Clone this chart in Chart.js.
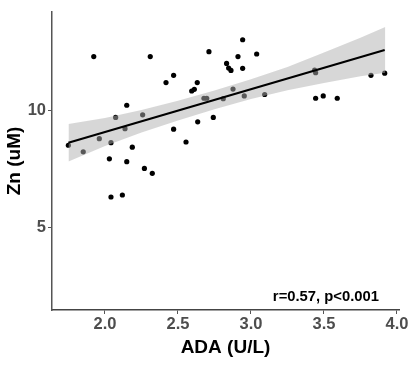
<!DOCTYPE html>
<html>
<head>
<meta charset="utf-8">
<script src="https://cdn.jsdelivr.net/npm/chart.js@4"></script>
<style>
  html, body { margin: 0; padding: 0; background: #fff; }
  #wrap { width: 417px; height: 365px; }
</style>
</head>
<body>
<div id="wrap"><canvas id="chart" width="417" height="365"></canvas></div>
<script>
// ADA vs Zn scatter
const adaValues = [
  1.923, 2.31, 2.712, 2.418, 2.47, 2.632, 2.594, 2.612, 2.678, 2.697,
  2.149, 2.073, 2.258, 2.137, 1.961, 2.041, 1.749, 1.851, 2.187, 2.47,
  2.635, 2.555, 2.03, 2.149, 2.27, 2.324, 2.041, 2.119, 2.943, 2.911,
  3.039, 2.833, 2.847, 2.863, 2.943, 2.742, 2.81, 2.877, 2.954, 3.094,
  3.436, 3.443, 3.443, 3.495, 3.591, 3.822, 3.916
];
const znValues = [
  12.29, 12.29, 12.5, 11.18, 11.49, 11.18, 10.82, 10.89, 10.51, 10.51,
  10.21, 9.69, 9.8, 9.21, 8.78, 8.61, 8.5, 8.22, 8.42, 9.19,
  9.5, 8.64, 7.92, 7.8, 7.51, 7.3, 6.29, 6.375, 13.01, 12.29,
  12.4, 12.0, 11.8, 11.7, 11.79, 9.69, 10.49, 10.9, 10.61, 10.67,
  11.71, 11.6, 10.51, 10.61, 10.51, 11.49, 11.58
];

// fitted line ends and confidence band
const fitX = [1.749, 3.916];
const fitY = [8.61, 12.57];
const bandX = [1.75, 2.0, 2.25, 2.5, 2.75, 3.0, 3.25, 3.5, 3.75, 3.92];
const bandUpper = [9.41, 9.67, 10.01, 10.40, 10.84, 11.32, 11.85, 12.46, 13.09, 13.56];
const bandLower = [7.81, 8.47, 9.05, 9.56, 10.04, 10.48, 10.85, 11.16, 11.45, 11.60];

const xTicks = [2.0, 2.5, 3.0, 3.5, 4.0];
const yTicks = [5, 10];
const statText = "r=0.57, p<0.001";
const statPos = { x: 3.877, y: 2.0 };

const pts = (xs, ys) => xs.map((x, i) => ({ x: x, y: ys[i] }));

const tickFont = { family: "'Liberation Sans', Arial, sans-serif", size: 16.5, weight: "bold" };
const titleFont = { family: "'Liberation Sans', Arial, sans-serif", size: 19, weight: "bold" };

// r / p label inside the plot
const statLabel = {
  id: "statLabel",
  afterDraw(chart) {
    const ctx = chart.ctx;
    const px = chart.scales.x.getPixelForValue(statPos.x);
    const py = chart.scales.y.getPixelForValue(statPos.y);
    ctx.save();
    ctx.font = "bold 14.8px 'Liberation Sans', Arial, sans-serif";
    ctx.fillStyle = "#000";
    ctx.textAlign = "right";
    ctx.textBaseline = "middle";
    ctx.fillText(statText, px, py);
    ctx.restore();
  },
};

new Chart(document.getElementById("chart"), {
  type: "scatter",
  data: {
    datasets: [
      {
        label: "points",
        data: pts(adaValues, znValues),
        backgroundColor: "#000",
        borderWidth: 0,
        pointRadius: 2.6,
        order: 4,
      },
      {
        type: "line",
        label: "upper",
        data: pts(bandX, bandUpper),
        borderWidth: 0,
        pointRadius: 0,
        backgroundColor: "rgba(175,175,175,0.5)",
        fill: "+1",
        tension: 0,
        order: 3,
      },
      {
        type: "line",
        label: "lower",
        data: pts(bandX, bandLower),
        borderWidth: 0,
        pointRadius: 0,
        fill: false,
        tension: 0,
        order: 3,
      },
      {
        type: "line",
        label: "fit",
        data: pts(fitX, fitY),
        borderColor: "#000",
        borderWidth: 2.2,
        pointRadius: 0,
        fill: false,
        order: 1,
      },
    ],
  },
  options: {
    responsive: false,
    animation: false,
    layout: { padding: { top: 4, right: 18, left: 0, bottom: 0 } },
    plugins: {
      legend: { display: false },
      tooltip: { enabled: false },
      filler: { drawTime: "beforeDatasetDraw" },
    },
    scales: {
      x: {
        type: "linear",
        min: 1.637,
        max: 4.014,
        afterBuildTicks: (s) => { s.ticks = xTicks.map((v) => ({ value: v })); },
        afterFit: (s) => { s.height = 55; },
        grid: { drawOnChartArea: false, drawTicks: true, tickLength: 4, color: "#555" },
        border: { display: true, color: "#444", width: 1.5 },
        ticks: {
          font: tickFont,
          color: "#4d4d4d",
          padding: 1,
          maxRotation: 0,
          callback: (v) => v.toFixed(1),
        },
        title: { display: true, text: "ADA (U/L)", font: titleFont, color: "#000", padding: { bottom: 6 } },
      },
      y: {
        type: "linear",
        min: 1.46,
        max: 14.2,
        afterBuildTicks: (s) => { s.ticks = yTicks.map((v) => ({ value: v })); },
        afterFit: (s) => { s.width = 52; },
        grid: { drawOnChartArea: false, drawTicks: true, tickLength: 4, color: "#555" },
        border: { display: true, color: "#555", width: 1.5 },
        ticks: { font: tickFont, color: "#4d4d4d", padding: 2 },
        title: { display: true, text: "Zn (uM)", font: titleFont, color: "#000", padding: { top: 3 } },
      },
    },
  },
  plugins: [statLabel],
});
</script>
</body>
</html>
